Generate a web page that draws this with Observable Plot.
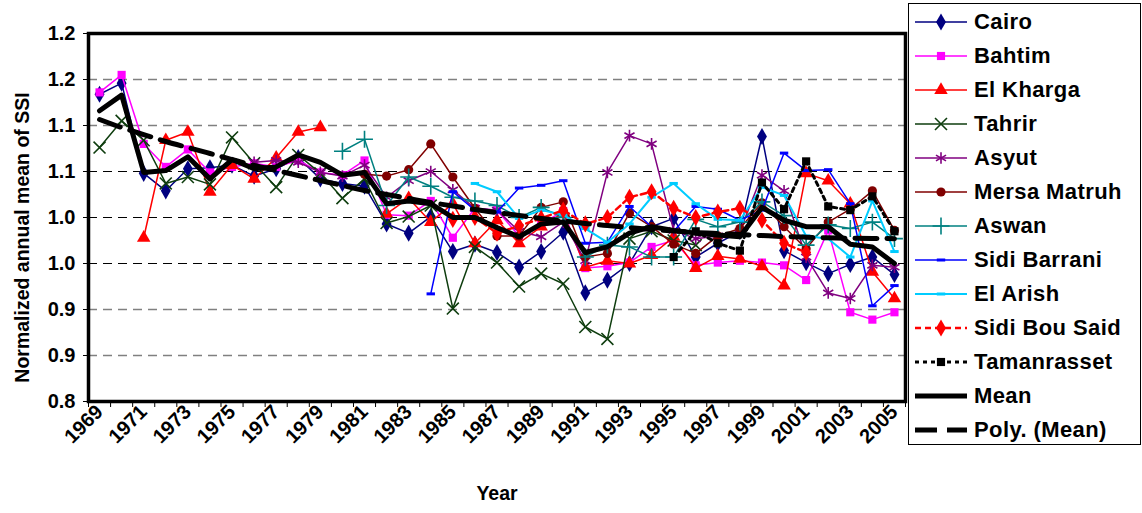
<!DOCTYPE html>
<html><head><meta charset="utf-8">
<script src="https://cdn.jsdelivr.net/npm/d3@7"></script>
<script src="https://cdn.jsdelivr.net/npm/@observablehq/plot@0.6"></script>
<style>
body{margin:0;background:#fff;font-family:"Liberation Sans",Arial,sans-serif;}
#wrap{position:relative;width:1142px;height:513px;overflow:hidden}
#legend{position:absolute;left:908px;top:3px;width:233px;height:442px;border:1px solid #000;box-sizing:border-box;background:#fff}
.row{position:absolute;left:4px;height:30px;display:flex;align-items:center;font-weight:bold;font-size:22px;letter-spacing:0.4px;color:#000;white-space:nowrap}
.row svg{margin-right:5px}
</style></head><body><div id="wrap"><div id="legend"></div></div>
<script>
const years = [1969,1970,1971,1972,1973,1974,1975,1976,1977,1978,1979,1980,1981,1982,1983,1984,1985,1986,1987,1988,1989,1990,1991,1992,1993,1994,1995,1996,1997,1998,1999,2000,2001,2002,2003,2004,2005];
const xTickYears = [1969,1971,1973,1975,1977,1979,1981,1983,1985,1987,1989,1991,1993,1995,1997,1999,2001,2003,2005];
const xTickLabels = ["1969","1971","1973","1975","1977","1979","1981","1983","1985","1987","1989","1991","1993","1995","1997","1999","2001","2003","2005"];
const yTicks = [0.8,0.85,0.9,0.95,1.0,1.05,1.1,1.15,1.2];
const yTickLabels = ["0.8","0.9","0.9","1.0","1.0","1.1","1.1","1.2","1.2"];

const cairo = [1.134,1.146,1.048,1.029,1.053,1.054,1.057,1.045,1.053,1.065,1.042,1.037,1.034,0.993,0.983,1.001,0.963,0.971,0.962,0.946,0.963,0.984,0.918,0.932,0.950,0.990,0.999,0.957,0.972,0.985,1.088,0.964,0.951,0.939,0.949,0.957,0.938];
const bahtim = [1.136,1.155,1.080,1.055,1.074,1.049,1.055,1.059,1.055,1.062,1.049,1.046,1.062,1.003,1.002,1.018,0.978,1.010,1.008,0.980,0.993,1.007,0.945,0.947,0.951,0.968,0.975,0.948,0.951,0.953,0.951,0.948,0.932,0.986,0.897,0.889,0.897];
const elKharga = [null,null,0.978,1.084,1.093,1.028,1.057,1.042,1.065,1.093,1.098,null,null,1.004,1.021,0.995,1.015,0.972,0.997,0.972,0.990,1.005,0.946,0.953,0.950,0.959,0.979,0.945,0.958,0.955,0.947,0.926,1.048,1.040,1.015,0.941,0.912];
const tahrir = [1.076,1.105,1.084,1.037,1.044,1.036,1.087,1.059,1.033,1.068,1.048,1.021,1.042,0.994,1.001,1.013,0.901,0.968,0.951,0.925,0.939,0.928,0.881,0.868,0.977,0.985,0.975,0.970,null,null,null,null,null,null,null,null,null];
const asyut = [null,null,null,null,null,null,null,1.060,1.062,1.060,1.049,1.045,1.057,1.022,1.040,1.050,1.030,1.010,1.008,0.985,0.979,0.995,0.953,1.049,1.089,1.080,0.986,0.977,0.980,0.985,1.046,1.029,0.957,0.918,0.912,0.948,0.946];
const mersaMatruh = [null,null,null,null,null,null,null,null,null,null,null,null,1.047,1.045,1.052,1.080,1.044,1.010,0.980,0.980,1.011,1.017,0.957,0.961,1.005,0.990,0.971,0.961,0.980,0.988,1.016,0.990,0.966,0.995,1.009,1.029,0.986];
const aswan = [null,null,null,null,null,null,null,null,null,null,null,1.072,1.085,1.013,1.044,1.034,1.022,1.018,1.013,1.000,1.011,1.000,0.957,0.970,0.968,0.957,0.957,0.998,0.990,0.995,1.017,1.002,0.970,0.992,0.988,0.995,0.977];
const sidiBarrani = [null,null,null,null,null,null,null,null,null,null,null,null,null,null,null,0.917,1.028,1.008,1.006,1.032,1.035,1.040,0.972,0.973,1.012,0.990,0.985,1.012,1.009,0.997,1.008,1.070,1.051,1.052,1.015,0.904,0.926];
const elArish = [null,null,null,null,null,null,null,null,null,null,null,null,null,null,null,null,null,1.037,1.028,0.999,1.008,1.003,0.988,0.973,0.993,1.022,1.037,1.015,0.998,0.997,1.033,1.024,0.980,0.977,0.957,1.018,0.963];
const sidiBouSaid = [null,null,null,null,null,null,null,null,null,null,null,null,null,null,null,null,0.998,1.000,0.983,0.991,0.999,1.008,0.993,1.000,1.022,1.028,1.010,1.000,1.006,1.010,0.997,0.972,0.962,null,null,null,null];
const tamanrasset = [null,null,null,null,null,null,null,null,null,null,null,null,null,null,null,null,null,null,null,null,null,null,null,null,null,null,0.957,0.985,0.972,0.964,1.038,1.009,1.061,1.012,1.008,1.023,0.985];
const mean = [1.116,1.133,1.049,1.051,1.066,1.042,1.063,1.053,1.055,1.068,1.060,1.046,1.049,1.015,1.018,1.015,1.000,1.000,0.989,0.979,0.993,0.995,0.962,0.968,0.983,0.990,0.986,0.983,0.981,0.979,1.011,0.997,0.990,0.990,0.971,0.968,0.950];
const polyMean = [1.1065,1.0978,1.0902,1.0826,1.0761,1.0696,1.0630,1.0565,1.0511,1.0457,1.0402,1.0348,1.0293,1.0250,1.0207,1.0163,1.0125,1.0087,1.0054,1.0022,0.9989,0.9962,0.9935,0.9913,0.9891,0.9870,0.9853,0.9837,0.9826,0.9815,0.9804,0.9793,0.9786,0.9779,0.9775,0.9772,0.9770];

const dashSymbol = {draw(ctx, size){ const w = Math.sqrt(size)*1.25, h = 3; ctx.moveTo(-w/2,-h/2); ctx.lineTo(w/2,-h/2); ctx.lineTo(w/2,h/2); ctx.lineTo(-w/2,h/2); ctx.closePath(); }};

const series = [
  {name:"Cairo", values:cairo, color:"#000080", sym:d3.symbolDiamond, fillSym:true, r:5.2, sw:1.5},
  {name:"Bahtim", values:bahtim, color:"#FF00FF", sym:d3.symbolSquare, fillSym:true, r:4.6, sw:1.5},
  {name:"El Kharga", values:elKharga, color:"#FF0000", sym:d3.symbolTriangle, fillSym:true, r:5, sw:1.5},
  {name:"Tahrir", values:tahrir, color:"#0E3D0E", sym:d3.symbolTimes, fillSym:false, r:5.5, sw:1.5},
  {name:"Asyut", values:asyut, color:"#800080", sym:d3.symbolAsterisk, fillSym:false, r:5.5, sw:1.5},
  {name:"Mersa Matruh", values:mersaMatruh, color:"#800000", sym:d3.symbolCircle, fillSym:true, r:4.6, sw:1.5},
  {name:"Aswan", values:aswan, color:"#008080", sym:d3.symbolPlus, fillSym:false, r:5.5, sw:1.5},
  {name:"Sidi Barrani", values:sidiBarrani, color:"#0000FF", sym:dashSymbol, fillSym:true, r:3.8, sw:1.5},
  {name:"El Arish", values:elArish, color:"#00CCFF", sym:dashSymbol, fillSym:true, r:3.8, sw:2},
  {name:"Sidi Bou Said", values:sidiBouSaid, color:"#FF0000", sym:d3.symbolDiamond, fillSym:true, r:5.2, sw:2.5, dash:"6,4"},
  {name:"Tamanrasset", values:tamanrasset, color:"#000000", sym:d3.symbolSquare, fillSym:true, r:4.6, sw:3, dash:"4,4"},
  {name:"Mean", values:mean, color:"#000000", sym:null, sw:5},
  {name:"Poly. (Mean)", values:polyMean, color:"#000000", sym:null, sw:5, dash:"22,10", curve:"natural"}
];

const font = "Liberation Sans, Arial, sans-serif";
const marks = [
  Plot.ruleY([0.85,0.9,1.1,1.15], {stroke:"#808080", strokeWidth:1.5, strokeDasharray:"9,6"}),
  Plot.ruleY([0.95,1.0,1.05], {stroke:"#000", strokeWidth:1, strokeDasharray:"9,6"}),
  Plot.axisY({ticks:yTicks, tickFormat:d => yTickLabels[yTicks.findIndex(t => Math.abs(t-d)<1e-9)], tickSize:5, tickPadding:8, fontSize:20, fontWeight:"bold", label:null}),
  Plot.axisX({ticks:d3.range(1968.5, 2006, 1), tickSize:6, tickFormat:() => "", label:null}),
  Plot.axisX({ticks:xTickYears, tickSize:0, tickPadding:7, tickRotate:-45, fontSize:20, fontWeight:"bold", tickFormat:d => xTickLabels[xTickYears.indexOf(d)], label:null})
];
for (const s of series) {
  const rows = years.map((yr,i) => ({year:yr, v:s.values[i]}));
  marks.push(Plot.line(rows, {x:"year", y:"v", stroke:s.color, strokeWidth:s.sw, strokeDasharray:s.dash, curve:s.curve || "linear"}));
  if (s.sym) {
    const pts = rows.filter(d => d.v != null);
    marks.push(Plot.dot(pts, s.fillSym
      ? {x:"year", y:"v", symbol:s.sym, r:s.r, fill:s.color, stroke:"none"}
      : {x:"year", y:"v", symbol:s.sym, r:s.r, stroke:s.color, strokeWidth:1.6, fill:"none"}));
  }
}
marks.push(Plot.frame({stroke:"#000", strokeWidth:3.5}));
marks.push(Plot.text(["Normalized annual mean of SSI"], {frameAnchor:"left", textAnchor:"middle", dx:-66, dy:20, rotate:-90, fontSize:19.5, fontWeight:"bold", fill:"#000"}));
marks.push(Plot.text(["Year"], {frameAnchor:"bottom", textAnchor:"middle", dy:98, fontSize:19.5, fontWeight:"bold", fill:"#000"}));

const chart = Plot.plot({
  width:1142, height:513,
  marginLeft:88, marginRight:237, marginTop:33, marginBottom:112,
  x:{type:"linear", domain:[1968.5, 2005.5], label:null},
  y:{domain:[0.8, 1.2], label:null},
  style:{fontFamily:font, color:"#000", background:"transparent", overflow:"visible"},
  marks
});
document.getElementById("wrap").prepend(chart);

// legend
const legend = document.getElementById("legend");
series.forEach((s, i) => {
  const row = document.createElement("div");
  row.className = "row";
  row.style.top = (3 + i*34) + "px";
  const sv = d3.create("svg").attr("width", 56).attr("height", 24);
  sv.append("line").attr("x1", 2).attr("x2", 54).attr("y1", 12).attr("y2", 12)
    .attr("stroke", s.color).attr("stroke-width", s.sw).attr("stroke-dasharray", s.dash || null);
  if (s.sym) {
    const p = d3.symbol(s.sym, Math.PI*s.r*s.r)();
    const m = sv.append("path").attr("d", p).attr("transform", "translate(28,12)");
    if (s.fillSym) m.attr("fill", s.color); else m.attr("fill", "none").attr("stroke", s.color).attr("stroke-width", 1.6);
  }
  row.appendChild(sv.node());
  const t = document.createElement("span");
  t.textContent = s.name;
  row.appendChild(t);
  legend.appendChild(row);
});
</script></body></html>
